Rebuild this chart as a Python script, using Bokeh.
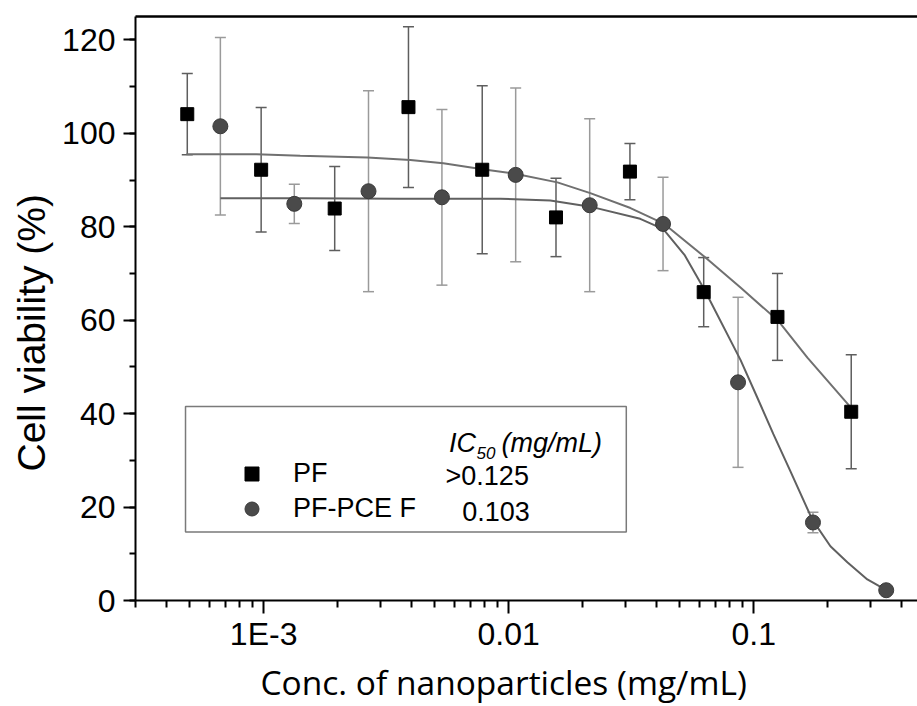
from bokeh.plotting import figure
from bokeh.models import (Range1d, LogAxis, FixedTicker, SingleIntervalTicker,
                          CustomJSTickFormatter, Whisker, TeeHead, ColumnDataSource,
                          Legend, LegendItem, BoxAnnotation, Label, Title)
from bokeh.embed import file_html
from bokeh.resources import INLINE

# ---------------- data ----------------
pf_conc = [0.000488, 0.000977, 0.00195, 0.0039, 0.0078, 0.0156, 0.03125, 0.0625, 0.125, 0.25]
pf_mean = [104.1, 92.2, 83.9, 105.6, 92.2, 82.0, 91.8, 66.0, 60.7, 40.4]
pf_sd = [8.7, 13.3, 9.0, 17.2, 18.0, 8.4, 6.0, 7.4, 9.3, 12.2]

pce_conc = [0.000666, 0.001334, 0.002679, 0.005341, 0.01068, 0.02141, 0.04265, 0.08631, 0.1745, 0.3473]
pce_mean = [101.5, 84.9, 87.6, 86.3, 91.1, 84.6, 80.6, 46.7, 16.7, 2.2]
pce_sd = [19.0, 4.2, 21.5, 18.8, 18.6, 18.5, 10.0, 18.2, 2.2, 0.0]

# fitted dose-response curves
pf_fit_x = [0.000484, 0.000934, 0.00141, 0.00265, 0.00397, 0.00541, 0.00782, 0.01074,
            0.01581, 0.02153, 0.03141, 0.04315, 0.06353, 0.08831, 0.1262, 0.1656, 0.2529]
pf_fit_y = [95.5, 95.5, 95.2, 94.8, 94.3, 93.6, 92.3, 91.3,
            89.5, 87.2, 84.0, 80.6, 73.4, 67.0, 59.8, 52.0, 40.9]

pce_fit_x = [0.000666, 0.001413, 0.003614, 0.009245, 0.01479, 0.02153, 0.03443, 0.04276,
             0.05216, 0.06295, 0.08831, 0.1035, 0.1203, 0.1411, 0.1734, 0.2056, 0.241,
             0.2909, 0.3477]
pce_fit_y = [86.1, 86.1, 86.0, 86.0, 85.6, 84.3, 81.7, 79.5,
             74.0, 66.5, 51.5, 43.4, 35.6, 27.7, 17.3, 11.6, 8.2,
             4.5, 2.2]

major_x_ticks = [0.001, 0.01, 0.1]
minor_x_ticks = [m * 10.0 ** e for e in (-4, -3, -2, -1) for m in range(2, 10)]

series_names = ["PF", "PF-PCE F"]
ic50_header = ["IC", "50", "(mg/mL)"]
ic50_values = [">0.125", "0.103"]

# ---------------- figure ----------------
p = figure(width=917, height=706, x_axis_type="log",
           x_range=Range1d(0.0003, 0.466), y_range=Range1d(0, 125),
           output_backend="svg", toolbar_location=None,
           min_border_left=135, min_border_right=0, min_border_top=16, min_border_bottom=105,
           background_fill_color="white", border_fill_color="white")
p.outline_line_color = None
p.xgrid.visible = False
p.ygrid.visible = False

TICK_FONT = "Liberation Sans"

xa = p.xaxis[0]
xa.ticker = FixedTicker(ticks=major_x_ticks, minor_ticks=minor_x_ticks)
xa.formatter = CustomJSTickFormatter(code="return Math.abs(tick - 0.001) < 1e-12 ? '1E-3' : tick.toString();")
ya = p.yaxis[0]
ya.ticker = SingleIntervalTicker(interval=20, num_minor_ticks=2)

for ax in (xa, ya):
    ax.axis_line_color = "black"
    ax.axis_line_width = 2
    ax.major_tick_line_color = "black"
    ax.major_tick_line_width = 2
    ax.minor_tick_line_color = "black"
    ax.minor_tick_line_width = 2
    ax.major_tick_in = 0
    ax.minor_tick_in = 0
    ax.major_label_text_font = TICK_FONT
    ax.major_label_text_font_size = "32px"
    ax.major_label_text_color = "black"

xa.major_tick_out = 13
xa.minor_tick_out = 7
xa.major_label_standoff = 2
ya.major_tick_out = 12
ya.minor_tick_out = 6
ya.major_label_standoff = 8

# top border line
top = LogAxis(ticker=FixedTicker(ticks=[]), axis_line_color="black", axis_line_width=2.5,
              major_tick_out=0, minor_tick_out=0, major_label_text_font_size="0px")
p.add_layout(top, "above")

# axis titles
xt = Title(text="Conc. of nanoparticles (mg/mL)", align="left", offset=125,
           text_font="Open Sans", text_font_size="33.5px", text_font_style="normal",
           text_color="black", standoff=4)
p.add_layout(xt, "below")
yt = Title(text="Cell viability (%)", align="left", offset=129,
           text_font=TICK_FONT, text_font_size="39px", text_font_style="normal",
           text_color="black", standoff=13)
p.add_layout(yt, "left")

# ---------------- error bars ----------------
pf_src = ColumnDataSource(dict(x=pf_conc, y=pf_mean,
                               upper=[m + s for m, s in zip(pf_mean, pf_sd)],
                               lower=[m - s for m, s in zip(pf_mean, pf_sd)]))
pce_src = ColumnDataSource(dict(x=pce_conc, y=pce_mean,
                                upper=[m + s for m, s in zip(pce_mean, pce_sd)],
                                lower=[m - s for m, s in zip(pce_mean, pce_sd)]))

for src, col in ((pce_src, "#9a9a9a"), (pf_src, "#5e5e5e")):
    w = Whisker(source=src, base="x", upper="upper", lower="lower", dimension="height",
                line_color=col, line_width=1.5, level="underlay",
                upper_head=TeeHead(size=11, line_color=col, line_width=1.5),
                lower_head=TeeHead(size=11, line_color=col, line_width=1.5))
    p.add_layout(w)

# ---------------- fitted curves ----------------
p.line(pf_fit_x, pf_fit_y, line_color="#707070", line_width=2)
p.line(pce_fit_x, pce_fit_y, line_color="#606060", line_width=2)

# ---------------- markers ----------------
r_pf = p.scatter("x", "y", source=pf_src, marker="square", size=13,
                 fill_color="black", line_color="black")
r_pce = p.scatter("x", "y", source=pce_src, marker="circle", size=15,
                  fill_color="#4a4a4a", line_color="#3a3a3a")

# ---------------- legend box ----------------
box = BoxAnnotation(left=0.00048, right=0.0302, top=41.52, bottom=14.68,
                    fill_alpha=0, line_color="#7a7a7a", line_alpha=1, line_width=1.5)
p.add_layout(box)

legend = Legend(items=[LegendItem(label=series_names[0], renderers=[r_pf]),
                       LegendItem(label=series_names[1], renderers=[r_pce])],
                location=(99, 74), glyph_width=35, glyph_height=35, spacing=0,
                padding=0, margin=0, label_standoff=24,
                border_line_color=None, background_fill_alpha=0,
                label_text_font=TICK_FONT, label_text_font_size="27px",
                label_text_color="black")
p.add_layout(legend)

lab_kw = dict(text_font=TICK_FONT, text_color="black")
p.add_layout(Label(x=0.005702, y=33.76, text=ic50_header[0], text_font_size="27px",
                   text_font_style="italic", text_baseline="alphabetic", **lab_kw))
p.add_layout(Label(x=0.007395, y=31.6, text=ic50_header[1], text_font_size="17px",
                   text_font_style="italic", text_baseline="alphabetic", **lab_kw))
p.add_layout(Label(x=0.009354, y=33.76, text=ic50_header[2], text_font_size="27px",
                   text_font_style="italic", text_baseline="alphabetic", **lab_kw))
p.add_layout(Label(x=0.005527, y=26.56, text=ic50_values[0], text_font_size="27px",
                   text_baseline="middle", **lab_kw))
p.add_layout(Label(x=0.006467, y=19.08, text=ic50_values[1], text_font_size="27px",
                   text_baseline="middle", **lab_kw))

open("out.html", "w").write(file_html(p, INLINE))
